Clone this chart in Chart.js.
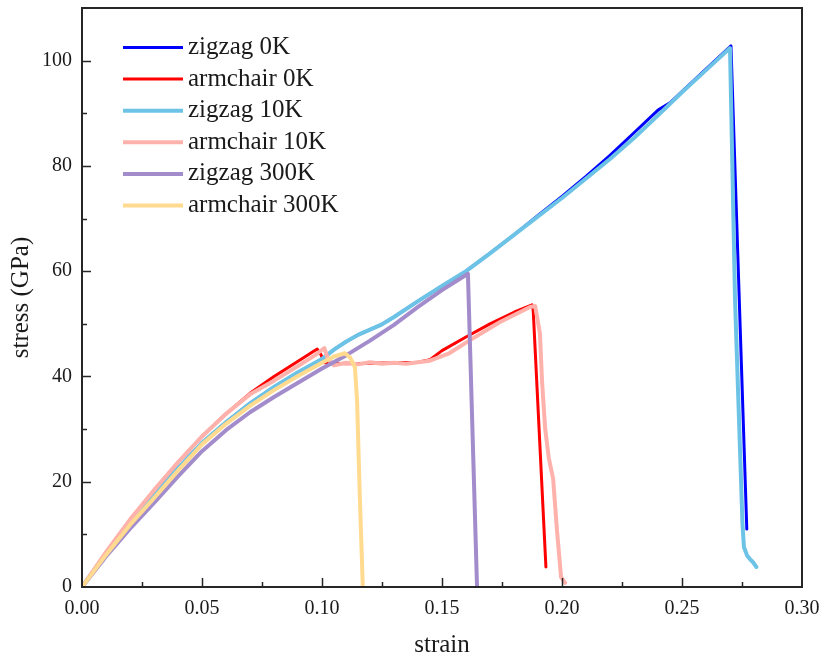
<!DOCTYPE html>
<html>
<head>
<meta charset="utf-8">
<script src="https://cdn.jsdelivr.net/npm/chart.js@4.4.1/dist/chart.umd.min.js"></script>
<style>
  html, body { margin: 0; padding: 0; background: #fff; }
</style>
</head>
<body>
<canvas id="stressChart" width="822" height="658"></canvas>
<script>
// values (strain, stress in GPa)
const zz0Strain = [0, 0.01, 0.02, 0.03, 0.04, 0.05, 0.06, 0.07, 0.08, 0.09, 0.10, 0.105, 0.11, 0.115, 0.12, 0.125, 0.13, 0.14, 0.15, 0.16, 0.17, 0.18, 0.19, 0.20, 0.21, 0.22, 0.23, 0.24, 0.245, 0.25, 0.26, 0.2704, 0.277];
const zz0Stress = [0, 6.3, 12.2, 17.4, 22.6, 27.4, 31.3, 34.9, 38.0, 40.8, 43.3, 45.1, 46.6, 47.9, 48.9, 49.9, 51.3, 54.3, 57.2, 60.0, 63.4, 66.9, 70.6, 74.2, 78.0, 82.0, 86.3, 90.6, 92.0, 94.1, 98.4, 102.8, 11.0];

const ac0Strain = [0, 0.01, 0.02, 0.03, 0.04, 0.05, 0.06, 0.07, 0.08, 0.09, 0.098, 0.0995, 0.101, 0.11, 0.12, 0.13, 0.14, 0.145, 0.15, 0.16, 0.17, 0.18, 0.1875, 0.188, 0.1933];
const ac0Stress = [0, 6.6, 12.8, 18.4, 23.7, 28.6, 32.9, 36.8, 40.0, 42.9, 45.2, 44.2, 42.6, 42.4, 42.5, 42.6, 42.7, 43.2, 44.9, 47.5, 50.0, 52.2, 53.6, 52.6, 3.8];

const zz10Strain = [0, 0.01, 0.02, 0.03, 0.04, 0.05, 0.06, 0.07, 0.08, 0.09, 0.10, 0.105, 0.11, 0.115, 0.12, 0.125, 0.13, 0.14, 0.15, 0.16, 0.17, 0.18, 0.19, 0.20, 0.21, 0.22, 0.23, 0.24, 0.25, 0.26, 0.27, 0.2721, 0.2752, 0.2758, 0.2771, 0.2783, 0.2796, 0.281];
const zz10Stress = [0, 6.3, 12.2, 17.4, 22.6, 27.4, 31.3, 34.9, 38.0, 40.8, 43.3, 45.1, 46.6, 47.9, 48.9, 49.9, 51.3, 54.3, 57.2, 60.0, 63.4, 66.9, 70.4, 73.9, 77.6, 81.3, 85.3, 89.6, 94.0, 98.2, 102.4, 54.5, 12.0, 7.6, 6.0, 5.3, 4.7, 3.8];

const ac10Strain = [0, 0.01, 0.02, 0.03, 0.04, 0.05, 0.06, 0.07, 0.08, 0.09, 0.097, 0.101, 0.1025, 0.105, 0.11, 0.115, 0.12, 0.125, 0.13, 0.135, 0.14, 0.145, 0.153, 0.1617, 0.174, 0.1867, 0.1888, 0.1908, 0.1917, 0.193, 0.1945, 0.1963, 0.1979, 0.1996, 0.2013];
const ac10Stress = [0, 6.6, 12.8, 18.4, 23.7, 28.6, 32.9, 36.6, 39.2, 42.0, 44.0, 45.4, 43.3, 42.1, 42.6, 42.3, 42.7, 42.4, 42.6, 42.4, 42.7, 43.0, 44.4, 46.9, 50.3, 53.2, 53.4, 48.2, 39.0, 30.0, 24.5, 20.6, 10.8, 1.9, 0.8];

const zz300Strain = [0, 0.01, 0.02, 0.03, 0.04, 0.05, 0.06, 0.07, 0.08, 0.09, 0.10, 0.11, 0.12, 0.13, 0.14, 0.15, 0.1608, 0.1646];
const zz300Stress = [0, 5.8, 11.1, 16.0, 21.0, 25.8, 29.8, 33.2, 36.1, 38.8, 41.5, 44.0, 46.8, 49.8, 53.2, 56.4, 59.5, 0];

const ac300Strain = [0, 0.01, 0.02, 0.03, 0.04, 0.05, 0.06, 0.07, 0.08, 0.09, 0.10, 0.105, 0.1096, 0.1117, 0.1137, 0.1146, 0.1158, 0.117];
const ac300Stress = [0, 6.1, 11.8, 16.9, 22.1, 27.1, 31.0, 34.4, 37.4, 40.1, 42.6, 43.8, 44.4, 43.6, 41.8, 35.5, 16.5, 0];

const seriesLabels = ["zigzag 0K", "armchair 0K", "zigzag 10K", "armchair 10K", "zigzag 300K", "armchair 300K"];
const xTickValues = [0, 0.05, 0.10, 0.15, 0.20, 0.25, 0.30];
const yTickValues = [0, 20, 40, 60, 80, 100];

const serif = '"Liberation Serif", "Times New Roman", serif';
const ink = "#1a1a1a";

const toPoints = (xs, ys) => xs.map((x, i) => ({ x: x, y: ys[i] }));

const colors = ["#0000ff", "#ff0000", "#6cc3e6", "#ffb2ab", "#a28ccb", "#ffda8f"];
const widths = [3, 3, 4, 4, 4, 4];
const pairs = [
  [zz0Strain, zz0Stress],
  [ac0Strain, ac0Stress],
  [zz10Strain, zz10Stress],
  [ac10Strain, ac10Stress],
  [zz300Strain, zz300Stress],
  [ac300Strain, ac300Stress],
];

const datasets = pairs.map((p, i) => ({
  label: seriesLabels[i],
  data: toPoints(p[0], p[1]),
  borderColor: colors[i],
  backgroundColor: colors[i],
  borderWidth: widths[i],
  pointRadius: 0,
  tension: 0,
  fill: false,
  borderJoinStyle: "round",
  borderCapStyle: "round",
  order: pairs.length - i, // later series on top
}));

// inward major/minor ticks plus the closed frame
const frameTicks = {
  id: "frameTicks",
  afterDraw(chart) {
    const { ctx, chartArea: a } = chart;
    const xs = chart.scales.x;
    const ys = chart.scales.y;
    ctx.save();
    ctx.strokeStyle = "#262626";
    ctx.lineWidth = 1.5;
    ctx.beginPath();
    xTickValues.forEach((v, i) => {
      const px = Math.round(xs.getPixelForValue(v)) + 0.5;
      if (i > 0 && i < xTickValues.length - 1) {
        ctx.moveTo(px, a.bottom);
        ctx.lineTo(px, a.bottom - 9);
      }
      if (i < xTickValues.length - 1) {
        const mx = Math.round(xs.getPixelForValue((v + xTickValues[i + 1]) / 2)) + 0.5;
        ctx.moveTo(mx, a.bottom);
        ctx.lineTo(mx, a.bottom - 5);
      }
    });
    yTickValues.forEach((v, i) => {
      const py = Math.round(ys.getPixelForValue(v)) + 0.5;
      if (i > 0) {
        ctx.moveTo(a.left, py);
        ctx.lineTo(a.left + 9, py);
      }
      if (i < yTickValues.length - 1) {
        const my = Math.round(ys.getPixelForValue((v + yTickValues[i + 1]) / 2)) + 0.5;
        ctx.moveTo(a.left, my);
        ctx.lineTo(a.left + 5, my);
      }
    });
    ctx.stroke();
    ctx.lineWidth = 2;
    ctx.strokeRect(a.left, a.top, a.right - a.left, a.bottom - a.top);
    ctx.restore();
  },
};

// legend drawn inside the plot, top left
const insideLegend = {
  id: "insideLegend",
  afterDraw(chart) {
    const { ctx, chartArea: a } = chart;
    ctx.save();
    ctx.font = "25px " + serif;
    ctx.textBaseline = "middle";
    ctx.textAlign = "left";
    chart.data.datasets.forEach((ds, i) => {
      const y = a.top + 39.5 + i * 31.6;
      ctx.strokeStyle = ds.borderColor;
      ctx.lineWidth = ds.borderWidth;
      ctx.beginPath();
      ctx.moveTo(a.left + 41, y);
      ctx.lineTo(a.left + 101, y);
      ctx.stroke();
      ctx.fillStyle = ink;
      ctx.fillText(ds.label, a.left + 106, y);
    });
    ctx.restore();
  },
};

Chart.defaults.font.family = serif;
Chart.defaults.color = ink;

const config = {
  type: "line",
  data: { datasets: datasets },
  options: {
    responsive: false,
    animation: false,
    layout: { padding: { top: 8, right: 20, left: 0, bottom: 0 } },
    plugins: {
      legend: { display: false },
      tooltip: { enabled: false },
    },
    scales: {
      x: {
        type: "linear",
        min: 0,
        max: 0.3,
        grid: { display: false, drawTicks: false },
        border: { display: false },
        ticks: {
          font: { size: 20 },
          color: ink,
          padding: 10,
          maxRotation: 0,
          autoSkip: false,
          callback: (v) => Number(v).toFixed(2),
        },
        afterBuildTicks: (s) => {
          s.ticks = xTickValues.map((v) => ({ value: v }));
        },
        title: {
          display: true,
          text: "strain",
          font: { size: 25, lineHeight: 1 },
          color: ink,
          padding: { top: 0, bottom: 0 },
        },
        afterFit: (s) => {
          s.height = 71;
          s.paddingLeft = 0;
          s.paddingRight = 0;
        },
      },
      y: {
        type: "linear",
        min: 0,
        max: 110,
        grid: { display: false, drawTicks: false },
        border: { display: false },
        ticks: {
          font: { size: 20 },
          color: ink,
          padding: 10,
        },
        afterBuildTicks: (s) => {
          s.ticks = yTickValues.map((v) => ({ value: v }));
        },
        title: {
          display: true,
          text: "stress (GPa)",
          font: { size: 25, lineHeight: 1 },
          color: ink,
          padding: { top: 9, bottom: 0 },
        },
        afterFit: (s) => {
          s.width = 82;
          s.paddingTop = 0;
          s.paddingBottom = 0;
        },
      },
    },
  },
  plugins: [frameTicks, insideLegend],
};

const ctx = document.getElementById("stressChart").getContext("2d");
new Chart(ctx, config);
</script>
</body>
</html>
